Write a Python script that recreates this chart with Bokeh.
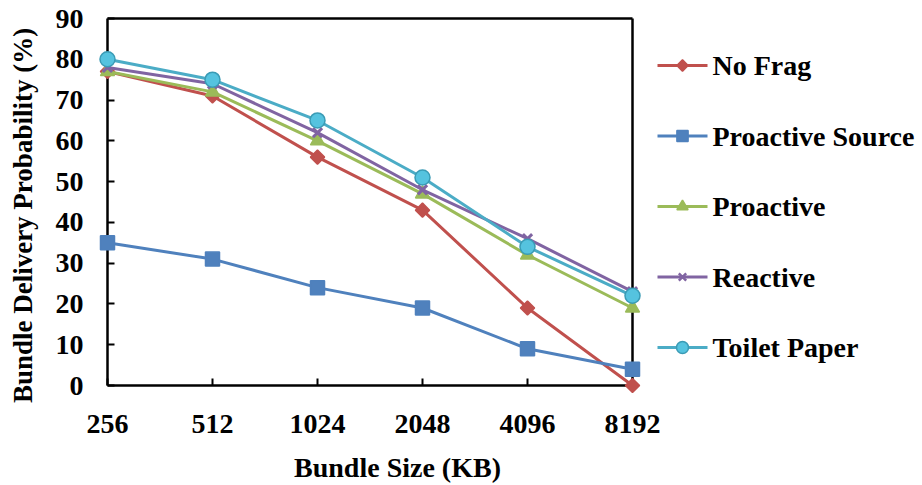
import math
from bokeh.plotting import figure
from bokeh.models import Range1d, FixedTicker
from bokeh.core.properties import value
from bokeh.embed import file_html
from bokeh.resources import INLINE

# ---- data ----
bundle_sizes = ["256", "512", "1024", "2048", "4096", "8192"]
no_frag = [77, 71, 56, 43, 19, 0]
proactive_source = [35, 31, 24, 19, 9, 4]
proactive = [77, 72, 60, 47, 32, 19]
reactive = [78, 74, 62, 48, 36, 23]
toilet_paper = [80, 75, 65, 51, 34, 22]
y_ticks = [0, 10, 20, 30, 40, 50, 60, 70, 80, 90]
x_title = "Bundle Size (KB)"
y_title = "Bundle Delivery Probability (%)"

FONT = "Liberation Serif"
xs = list(range(len(bundle_sizes)))
x0, x1 = xs[0], xs[-1]
y0, y1 = y_ticks[0], y_ticks[-1]

W, H = 920, 483
# axes box in screen pixels; the frame extends to the right to hold the legend
B_LEFT, B_TOP, B_RIGHT, B_BOTTOM = 107, 18, 632, 385
F_RIGHT = W - 2
px_per_x = (B_RIGHT - B_LEFT) / (x1 - x0)
px_per_y = (B_BOTTOM - B_TOP) / (y1 - y0)
def dx(sx):
    return x0 + (sx - B_LEFT) / px_per_x
def dy(sy):
    return y0 + (B_BOTTOM - sy) / px_per_y

p = figure(width=W, height=H, output_backend="svg", toolbar_location=None,
           x_range=Range1d(x0, dx(F_RIGHT)), y_range=Range1d(y0, y1))
p.min_border_left = B_LEFT
p.min_border_right = W - F_RIGHT
p.min_border_top = B_TOP
p.min_border_bottom = H - B_BOTTOM
p.outline_line_color = None
p.grid.visible = False

for ax in (p.xaxis[0], p.yaxis[0]):
    ax.axis_line_width = 2.5
    ax.major_tick_in = 7
    ax.major_tick_out = 0
    ax.major_tick_line_width = 2
    ax.major_tick_line_color = "black"
    ax.minor_tick_line_color = None
    ax.major_label_text_font = FONT
    ax.major_label_text_font_style = "bold"
    ax.major_label_text_font_size = "28px"
    ax.major_label_text_color = "black"

p.xaxis.axis_line_color = None
p.xaxis.ticker = FixedTicker(ticks=xs)
p.xaxis.major_label_overrides = {i: s for i, s in zip(xs, bundle_sizes)}
p.xaxis.major_label_standoff = 29

p.yaxis.axis_line_color = "black"
p.yaxis.ticker = FixedTicker(ticks=y_ticks)
p.yaxis.major_label_standoff = 24

# axes box: bottom, right and top edges
p.segment(x0=[x0, x1, x0], y0=[y0, y0, y1], x1=[x1, x1, x1], y1=[y0, y1, y1],
          line_color="black", line_width=2.5, level="overlay")

text_style = dict(text_font=value(FONT), text_font_style="bold",
                  text_color="black", level="overlay")

# axis titles
p.text(x=[dx(397)], y=[dy(467)], text=[x_title], text_align="center",
       text_baseline="middle", text_font_size="28px", **text_style)
p.text(x=[dx(22)], y=[dy(215)], text=[y_title], angle=math.pi / 2, text_align="center",
       text_baseline="middle", text_font_size="27px", **text_style)

series = [
    ("No Frag", no_frag, "#C0504D", dict(marker="square", size=10, angle=math.pi / 4)),
    ("Proactive Source", proactive_source, "#4F81BD", dict(marker="square", size=14)),
    ("Proactive", proactive, "#9BBB59", dict(marker="triangle", size=14)),
    ("Reactive", reactive, "#8064A2", dict(marker="x", size=13, line_width=3)),
    ("Toilet Paper", toilet_paper, "#4BACC6", dict(marker="circle", size=15)),
]

for i, (name, vals, color, mk) in enumerate(series):
    kw = dict(mk)
    lw = kw.pop("line_width", 1.5)
    size = kw.pop("size")
    line_col = color if name != "Toilet Paper" else "#3A9BB5"
    fill_col = color if name != "Toilet Paper" else "#55C3DF"
    p.line(xs, vals, line_color=color, line_width=3, level="overlay")
    p.scatter(xs, vals, fill_color=fill_col, line_color=line_col, line_width=lw,
              size=size, level="overlay", **kw)
    # legend entry
    ly = dy(65 + i * 70.5)
    p.line([dx(657), dx(707)], [ly, ly], line_color=color, line_width=3, level="overlay")
    p.scatter([dx(682)], [ly], fill_color=fill_col, line_color=line_col,
              line_width=min(lw, 2.5), size=size * 0.8, level="overlay", **kw)
    p.text(x=[dx(712)], y=[ly], text=[name], text_align="left",
           text_baseline="middle", text_font_size="28px", **text_style)

open("out.html", "w").write(file_html(p, INLINE))
